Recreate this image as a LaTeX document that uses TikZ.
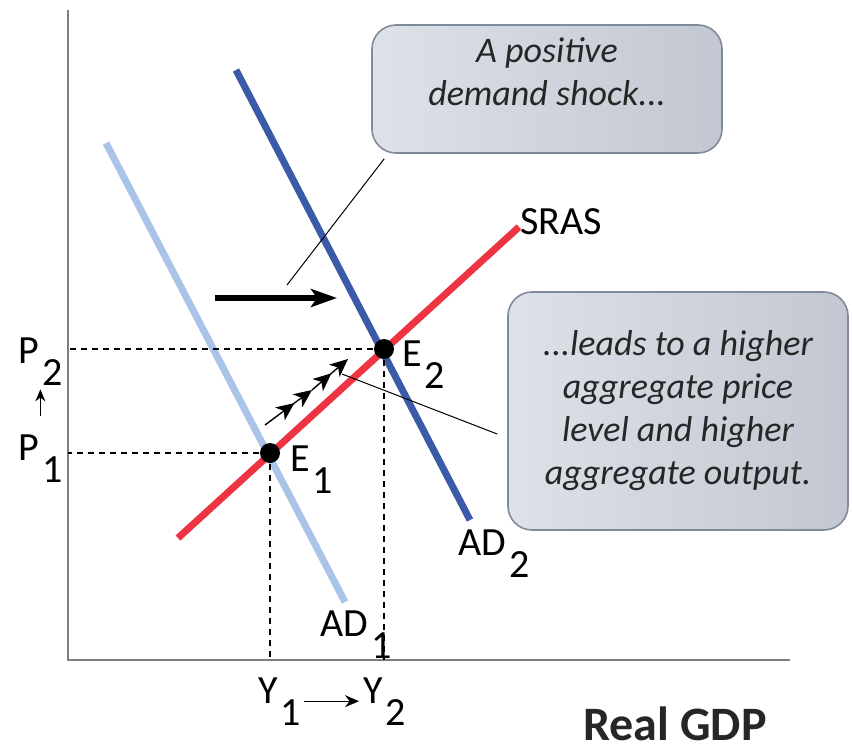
\documentclass[tikz,border=0pt]{standalone}
\usepackage{fontspec}
\setmainfont{Carlito}
\usepackage{tikz}
\usetikzlibrary{arrows.meta,positioning}

\definecolor{adone}{HTML}{A9C4E6}
\definecolor{adtwo}{HTML}{3B5BA9}
\definecolor{srascol}{HTML}{EE3342}
\definecolor{axiscol}{HTML}{7F7F7F}
\definecolor{boxedge}{HTML}{7F8B9B}
\definecolor{boxlight}{HTML}{DDE1E8}
\definecolor{boxdark}{HTML}{C2C7D1}
\definecolor{boxtext}{HTML}{262626}

\newcommand{\lowsub}[1]{\kern1.5pt\raisebox{-0.55em}{#1}}

\begin{document}
\begin{tikzpicture}[
        x=0.5pt,
        y=-0.5pt,
        axis/.style={draw=axiscol, line width=0.7pt},
        curve/.style={line width=3.5pt},
        guide/.style={line width=0.6pt, dash pattern=on 3pt off 2.5pt},
        eq/.style={circle, fill=black, minimum size=10pt, inner sep=0pt},
        lab/.style={anchor=base west, inner sep=0pt, font=\fontsize{20}{24}\selectfont},
        callout/.style={draw=boxedge, line width=0.8pt, rounded corners=12pt,
            left color=boxlight, right color=boxdark, align=center, text=boxtext,
            font=\fontsize{18}{21.5}\selectfont\itshape},
        pointer/.style={line width=0.5pt},
        movealong/.style={line width=0.7pt, -{Stealth[length=9pt,width=8pt,inset=2.5pt,sep=2pt]Stealth[length=9pt,width=8pt,inset=2.5pt]}}
    ]
        \useasboundingbox (0,0) rectangle (852,750);

        % axes
        \coordinate (top) at (68,10);
        \coordinate (origin) at (68,660);
        \coordinate (right) at (790,660);
        \draw[axis] (top) -- (origin) -- (right);

        % curves
        \coordinate (ad1a) at (106,143);
        \coordinate (ad1b) at (345,602);
        \coordinate (ad2a) at (236,70);
        \coordinate (ad2b) at (470,520);
        \coordinate (srasa) at (178,538);
        \coordinate (srasb) at (519,227);
        \draw[curve, adone] (ad1a) -- (ad1b);
        \draw[curve, adtwo] (ad2a) -- (ad2b);
        \draw[curve, srascol] (srasa) -- (srasb);

        % equilibria and guides
        \node[eq] (e1) at (270,453) {};
        \node[eq] (e2) at (384,349) {};
        \draw[guide] (e1.center) -- (e1.center -| origin);
        \draw[guide] (e1.center) -- (e1.center |- origin);
        \draw[guide] (e2.center) -- (e2.center -| origin);
        \draw[guide] (e2.center) -- (e2.center |- origin);

        % labels
        \foreach \name/\px/\py/\main/\idx in {p2/18/363/P/2, p1/18/460/P/1, lE1/290/471/E/1, lE2/402/366/E/2,
                lad2/458/555/AD/2, lad1/320/636/AD/1, y1/258/703/Y/1, y2/363/703/Y/2} {
            \node[lab] (\name) at (\px,\py) {\main\lowsub{\idx}};
        }
        \node[lab] (sras) at (520,234) {SRAS};
        \node[anchor=base west, inner sep=0pt, font=\fontsize{24}{28}\selectfont\bfseries, text=boxtext] (gdp) at (583,740) {Real GDP};

        \draw[-{Stealth[length=6pt,width=5pt]}, line width=0.5pt, shorten <=9pt, shorten >=2pt] (p1.north) -- (p2.south);
        \draw[-{Stealth[length=7pt,width=6pt]}, line width=0.6pt, shorten <=1pt, shorten >=2pt] (y1.east) -- (y2.west);

        % shift of demand
        \coordinate (shockfrom) at (215,298);
        \coordinate (shockto) at (337,298);
        \draw[line width=3pt, -{Stealth[length=13pt,width=9pt,inset=3pt]}] (shockfrom) -- (shockto);

        \coordinate (move1) at (265,425);
        \coordinate (move2) at (312,390);
        \coordinate (move3) at (348,359);
        \draw[movealong] (move1) -- (move2);
        \draw[movealong] (move2) -- (move3);

        % callouts
        \node[callout, minimum width=175pt, minimum height=64pt] (shock) at (547,89) {A positive\\demand shock...\\[-4pt]};
        \node[callout, minimum width=170pt, minimum height=119pt] (result) at (678,411)
            {...leads to a higher\\aggregate price\\level and higher\\aggregate output.};

        \coordinate (cue1) at (287,285);
        \coordinate (cue2) at (342,374);
        \draw[pointer] (shock.south west) ++(13,5) -- (cue1);
        \draw[pointer] (result.west) ++(-10,23) -- (cue2);
    \end{tikzpicture}
\end{document}
